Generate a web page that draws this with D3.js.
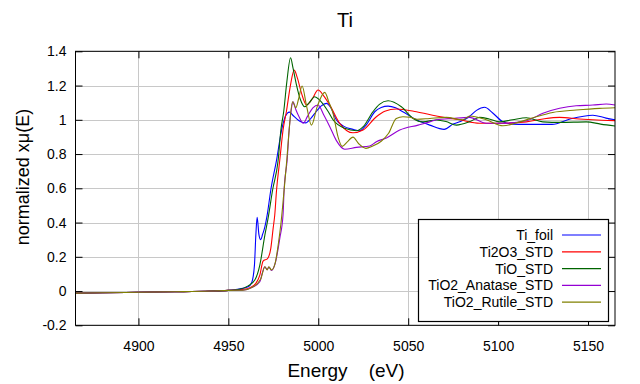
<!DOCTYPE html>
<html><head><meta charset="utf-8">
<script src="https://cdn.jsdelivr.net/npm/d3@7"></script>
<style>body{margin:0;background:#fff}text{font-family:"Liberation Sans",Arial,sans-serif}</style>
</head><body><svg id="c" width="640" height="384"></svg>
<script>
const title = "Ti";
const xTicks = [4900, 4950, 5000, 5050, 5100, 5150];
const yTicks = [-0.2, 0, 0.2, 0.4, 0.6, 0.8, 1, 1.2, 1.4];
const seriesNames = ["Ti_foil", "Ti2O3_STD", "TiO_STD", "TiO2_Anatase_STD", "TiO2_Rutile_STD"];
const seriesColors = ["#0000ff", "#ff0000", "#006400", "#9400d3", "#808000"];

const preEdge = [[4865,-0.012],[4880,-0.01],[4900,-0.007],[4920,-0.004],[4940,0.0],[4950,0.004]];

const tiFoil = [[4956,0.012],[4961,0.025],[4963,0.05],[4964.5,0.15],[4965.3,0.33],[4966,0.43],[4967,0.33],[4968,0.30],[4969,0.33],[4970.3,0.375],[4971.6,0.445],[4973.6,0.59],[4976.8,0.765],[4979.6,0.94],[4981,1.0],[4982.7,1.038],[4984,1.045],[4986,1.025],[4988,1.005],[4990,0.99],[4993,0.982],[4996,1.01],[4999,1.05],[5001.5,1.08],[5004.5,1.096],[5007,1.07],[5010,1.0],[5014,0.963],[5019.3,0.944],[5023,0.936],[5027,0.975],[5031.4,1.047],[5035,1.072],[5038.8,1.08],[5043,1.07],[5047,1.047],[5054.6,1.0],[5062,0.969],[5070,0.944],[5075,0.975],[5079,0.99],[5084,1.018],[5088,1.055],[5092.5,1.073],[5097,1.04],[5102.7,0.988],[5108,0.975],[5115,0.973],[5130,0.973],[5140,1.005],[5152.7,1.027],[5160,1.01],[5165,1.0]];

const ti2o3 = [[4958,0.01],[4962,0.02],[4965.3,0.045],[4967.5,0.093],[4969.3,0.175],[4971.8,0.19],[4973.6,0.249],[4974.9,0.366],[4975.8,0.444],[4976.8,0.59],[4978.6,0.765],[4980.4,0.94],[4982.3,1.05],[4984.5,1.2],[4986.6,1.29],[4988.5,1.24],[4990.7,1.154],[4993.5,1.086],[4996.5,1.12],[4999.9,1.174],[5003,1.14],[5006.4,1.086],[5012,0.978],[5019.3,0.924],[5024.9,0.94],[5032.3,1.018],[5037,1.05],[5043.4,1.063],[5054.6,1.047],[5065.7,1.022],[5078.6,1.0],[5089.7,0.98],[5100.8,0.98],[5115.7,0.988],[5125,1.005],[5134.2,1.014],[5145,1.005],[5152.7,1.0],[5165,0.995]];

const tio = [[4956,0.01],[4961,0.03],[4964.7,0.064],[4967.5,0.152],[4970.3,0.327],[4972,0.42],[4974.6,0.59],[4977.7,0.765],[4979.2,0.94],[4980.8,1.05],[4982.5,1.22],[4984.6,1.362],[4986,1.3],[4987.9,1.203],[4990,1.12],[4992.5,1.076],[4995,1.1],[4998,1.135],[5000.8,1.115],[5005.4,1.05],[5008.2,1.0],[5014.7,0.95],[5021.2,0.936],[5025,0.96],[5030.4,1.047],[5034,1.09],[5038.8,1.111],[5046.2,1.076],[5052.7,1.008],[5058.2,0.988],[5065.7,0.999],[5071,0.99],[5076.8,0.969],[5084,0.988],[5089.7,1.014],[5095,1.005],[5100.8,0.988],[5108,1.0],[5115.7,1.012],[5124.9,0.988],[5135,0.985],[5149,0.988],[5157,0.975],[5165,0.964]];

const anatase = [[4958,0.005],[4963,0.02],[4967.5,0.054],[4969,0.11],[4970.3,0.142],[4971.5,0.125],[4972.5,0.14],[4974,0.12],[4976,0.16],[4978.6,0.308],[4980.4,0.444],[4981,0.59],[4982.7,0.765],[4983.8,0.94],[4985,1.06],[4986,1.105],[4987.5,1.06],[4989.3,1.018],[4991.6,0.98],[4994,1.02],[4997,1.07],[4999.9,1.086],[5003,1.03],[5006.4,0.96],[5010,0.88],[5014.7,0.828],[5021.2,0.839],[5028.6,0.847],[5032.3,0.872],[5037.9,0.894],[5045.3,0.94],[5055.5,0.969],[5062,0.988],[5065.7,1.0],[5074.9,1.008],[5084,1.014],[5093.4,0.98],[5102.7,0.98],[5115.7,0.994],[5124.9,1.038],[5134.2,1.067],[5143.4,1.082],[5152.7,1.086],[5160.1,1.092],[5165,1.086]];

const rutile = [[4958,0.005],[4963,0.02],[4968,0.07],[4970.3,0.142],[4971.6,0.123],[4972.5,0.142],[4974,0.123],[4976.2,0.171],[4977.7,0.269],[4979.3,0.4],[4981,0.59],[4982.5,0.765],[4983.8,0.94],[4985.7,1.105],[4987.5,1.07],[4989,1.12],[4991,1.197],[4993.5,1.08],[4996.2,0.969],[4999.5,1.08],[5003.6,1.16],[5006,1.1],[5008.2,1.038],[5011,0.9],[5013.3,0.845],[5016,0.87],[5019.3,0.899],[5022.5,0.86],[5026.5,0.833],[5030,0.845],[5035,0.875],[5039,0.92],[5043.4,1.008],[5047.1,1.018],[5051,1.015],[5055,1.003],[5062,1.008],[5071.2,1.014],[5080.4,1.0],[5084.2,1.022],[5093.4,1.0],[5102.7,0.965],[5112,0.988],[5121.2,1.018],[5130.4,1.043],[5143.4,1.057],[5156.4,1.067],[5165,1.07]];

const seriesData = [tiFoil, ti2o3, tio, anatase, rutile];

const svg = d3.select("#c");
const L = 75.5, R = 615, T = 51.3, B = 325.3;
const x = d3.scaleLinear().domain([4865, 5165]).range([L, R]);
const y = d3.scaleLinear().domain([-0.2, 1.4]).range([B, T]);

svg.append("rect").attr("width",640).attr("height",384).attr("fill","#fff");

// grid
const grid = svg.append("g").attr("stroke","#c8c8c8").attr("stroke-width",1);
xTicks.forEach(t => grid.append("line").attr("x1",Math.round(x(t))+0.5).attr("x2",Math.round(x(t))+0.5).attr("y1",T).attr("y2",B));
yTicks.forEach(t => grid.append("line").attr("y1",Math.round(y(t))+0.5).attr("y2",Math.round(y(t))+0.5).attr("x1",L).attr("x2",R));

// axes with inward ticks
const fmt = d => String(d);
const gx = svg.append("g").attr("transform",`translate(0,${B})`)
  .call(d3.axisBottom(x).tickValues(xTicks).tickFormat(fmt).tickSizeInner(-7).tickSizeOuter(0).tickPadding(16));
const gxt = svg.append("g").attr("transform",`translate(0,${T})`)
  .call(d3.axisTop(x).tickValues(xTicks).tickFormat("").tickSizeInner(-7).tickSizeOuter(0));
const gy = svg.append("g").attr("transform",`translate(${L},0)`)
  .call(d3.axisLeft(y).tickValues(yTicks).tickFormat(fmt).tickSizeInner(-7).tickSizeOuter(0).tickPadding(9));
const gyr = svg.append("g").attr("transform",`translate(${R},0)`)
  .call(d3.axisRight(y).tickValues(yTicks).tickFormat("").tickSizeInner(-7).tickSizeOuter(0));
[gx,gxt,gy,gyr].forEach(g => { g.select(".domain").remove(); g.selectAll("line").attr("stroke","#000"); g.selectAll("text").attr("font-size",14).attr("fill","#000").attr("font-family","Liberation Sans, Arial, sans-serif"); });

// lines
const line = d3.line().x(d => x(d[0])).y(d => y(d[1])).curve(d3.curveMonotoneX);
const clip = svg.append("clipPath").attr("id","pc").append("rect").attr("x",L).attr("y",T).attr("width",R-L).attr("height",B-T);
const lg = svg.append("g").attr("clip-path","url(#pc)");
seriesData.forEach((s,i) => {
  lg.append("path").datum(preEdge.concat(s)).attr("d",line).attr("fill","none").attr("stroke",seriesColors[i]).attr("stroke-width",1.1);
});

// frame
svg.append("rect").attr("x",L).attr("y",T).attr("width",R-L).attr("height",B-T).attr("fill","none").attr("stroke","#000").attr("stroke-width",1);

// legend
const lgX = 418, lgY = 219, lgW = 190, lgH = 102;
svg.append("rect").attr("x",lgX+0.5).attr("y",lgY+0.5).attr("width",lgW).attr("height",lgH).attr("fill","#fff").attr("stroke","#000").attr("stroke-width",1.2);
seriesNames.forEach((n,i) => {
  const cy = 235 + i*16.8;
  svg.append("text").attr("x",553).attr("y",cy).attr("dy","0.35em").attr("text-anchor","end").attr("font-size",14).text(n);
  svg.append("line").attr("x1",562).attr("x2",601).attr("y1",cy).attr("y2",cy).attr("stroke",seriesColors[i]).attr("stroke-width",1.2);
});

// titles
svg.append("text").attr("x",345).attr("y",27).attr("text-anchor","middle").attr("font-size",20).text(title);
svg.append("text").attr("x",346).attr("y",377).attr("text-anchor","middle").attr("font-size",19).attr("xml:space","preserve").style("white-space","pre").text("Energy    (eV)");
svg.append("text").attr("transform","translate(29,177) rotate(-90)").attr("text-anchor","middle").attr("font-size",18).text("normalized xμ(E)");
</script></body></html>
